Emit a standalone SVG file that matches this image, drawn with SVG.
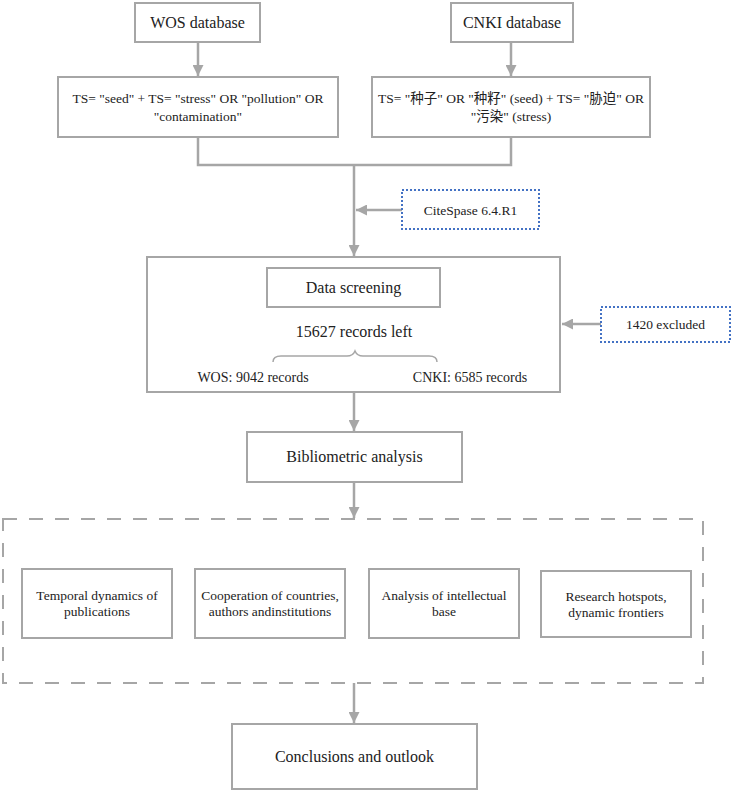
<svg xmlns="http://www.w3.org/2000/svg" width="734" height="794" viewBox="0 0 734 794">
<style>
.box{fill:#fff;stroke:#a6a6a6;stroke-width:2}
.dot{fill:#fff;stroke:#4472c4;stroke-width:2;stroke-dasharray:2 2}
.dash{fill:none;stroke:#a6a6a6;stroke-width:2;stroke-dasharray:14 12}
.ln{fill:none;stroke:#a6a6a6;stroke-width:2.5}
text{font-family:"Liberation Serif","Times New Roman","DejaVu Serif","Noto Sans CJK SC",serif;fill:#222;text-anchor:middle}
.t16{font-size:16px}
.t14{font-size:14px}
.t13{font-size:13.5px}
</style>
<defs>
<marker id="ah" viewBox="0 0 10 10" refX="10" refY="5" markerWidth="4.4" markerHeight="4.4" markerUnits="strokeWidth" orient="auto">
<path d="M0,0 L10,5 L0,10 z" fill="#a6a6a6"/>
</marker>
</defs>
<rect width="734" height="794" fill="#fff"/>
<g id="connectors">
<line class="ln" x1="198" y1="42" x2="198" y2="76" marker-end="url(#ah)"/>
<line class="ln" x1="511" y1="42" x2="511" y2="76" marker-end="url(#ah)"/>
<polyline class="ln" points="198,137 198,165 511,165 511,137"/>
<line class="ln" x1="354" y1="165" x2="354" y2="256" marker-end="url(#ah)"/>
<line class="ln" x1="402" y1="210" x2="356" y2="210" marker-end="url(#ah)"/>
<line class="ln" x1="601" y1="324" x2="562" y2="324" marker-end="url(#ah)"/>
<line class="ln" x1="354" y1="393" x2="354" y2="431" marker-end="url(#ah)"/>
<line class="ln" x1="354" y1="482" x2="354" y2="518" marker-end="url(#ah)"/>
<line class="ln" x1="354" y1="683" x2="354" y2="723" marker-end="url(#ah)"/>
</g>
<g id="wos">
<rect class="box" x="135" y="3" width="125" height="39"/>
<text class="t16" x="197.5" y="28">WOS database</text>
</g>
<g id="cnki">
<rect class="box" x="451" y="3" width="122" height="39"/>
<text class="t16" x="512" y="28">CNKI database</text>
</g>
<g id="wos-query">
<rect class="box" x="58" y="77" width="280" height="60"/>
<text class="t13" x="198" y="103">TS= "seed" + TS= "stress" OR "pollution" OR</text>
<text class="t13" x="198" y="121">"contamination"</text>
</g>
<g id="cnki-query">
<rect class="box" x="372" y="77" width="278" height="60"/>
<text class="t13" x="511" y="103">TS= "种子" OR "种籽" (seed) + TS= "胁迫" OR</text>
<text class="t13" x="511" y="121">"污染" (stress)</text>
</g>
<g id="citespace">
<rect class="dot" x="402" y="190" width="137" height="39"/>
<text class="t13" x="470.5" y="214.5">CiteSpase 6.4.R1</text>
</g>
<g id="screening">
<rect class="box" x="147" y="257" width="413" height="135"/>
<rect class="box" x="267" y="268" width="173" height="39"/>
<text class="t16" x="353.5" y="292.5">Data screening</text>
<text class="t16" x="354" y="336.5">15627 records left</text>
<path class="ln" style="stroke-width:1.5" d="M273,362 Q273,356 281,356 L347,356 Q353,356 355,351 Q357,356 363,356 L429,356 Q437,356 437,362"/>
<text class="t14" x="253" y="382">WOS: 9042 records</text>
<text class="t14" x="470" y="382">CNKI: 6585 records</text>
</g>
<g id="excluded">
<rect class="dot" x="601" y="307" width="129" height="35"/>
<text class="t13" x="665.5" y="329">1420 excluded</text>
</g>
<g id="bibliometric">
<rect class="box" x="247" y="432" width="215" height="50"/>
<text class="t16" x="354.5" y="462">Bibliometric analysis</text>
</g>
<g id="analyses">
<rect class="dash" x="3" y="519" width="700" height="164"/>
</g>
<g id="temporal">
<rect class="box" x="22" y="569" width="150" height="69"/>
<text class="t13" x="97" y="600">Temporal dynamics of</text>
<text class="t13" x="97" y="616">publications</text>
</g>
<g id="cooperation">
<rect class="box" x="195" y="569" width="150" height="69"/>
<text class="t13" x="270" y="600">Cooperation of countries,</text>
<text class="t13" x="270" y="616">authors andinstitutions</text>
</g>
<g id="intellectual">
<rect class="box" x="369" y="569" width="150" height="69"/>
<text class="t13" x="444" y="600">Analysis of intellectual</text>
<text class="t13" x="444" y="616">base</text>
</g>
<g id="hotspots">
<rect class="box" x="541" y="571" width="150" height="66"/>
<text class="t13" x="616" y="601">Research hotspots,</text>
<text class="t13" x="616" y="617">dynamic frontiers</text>
</g>
<g id="conclusions">
<rect class="box" x="232" y="724" width="245" height="65"/>
<text class="t16" x="354.5" y="762">Conclusions and outlook</text>
</g>
</svg>
